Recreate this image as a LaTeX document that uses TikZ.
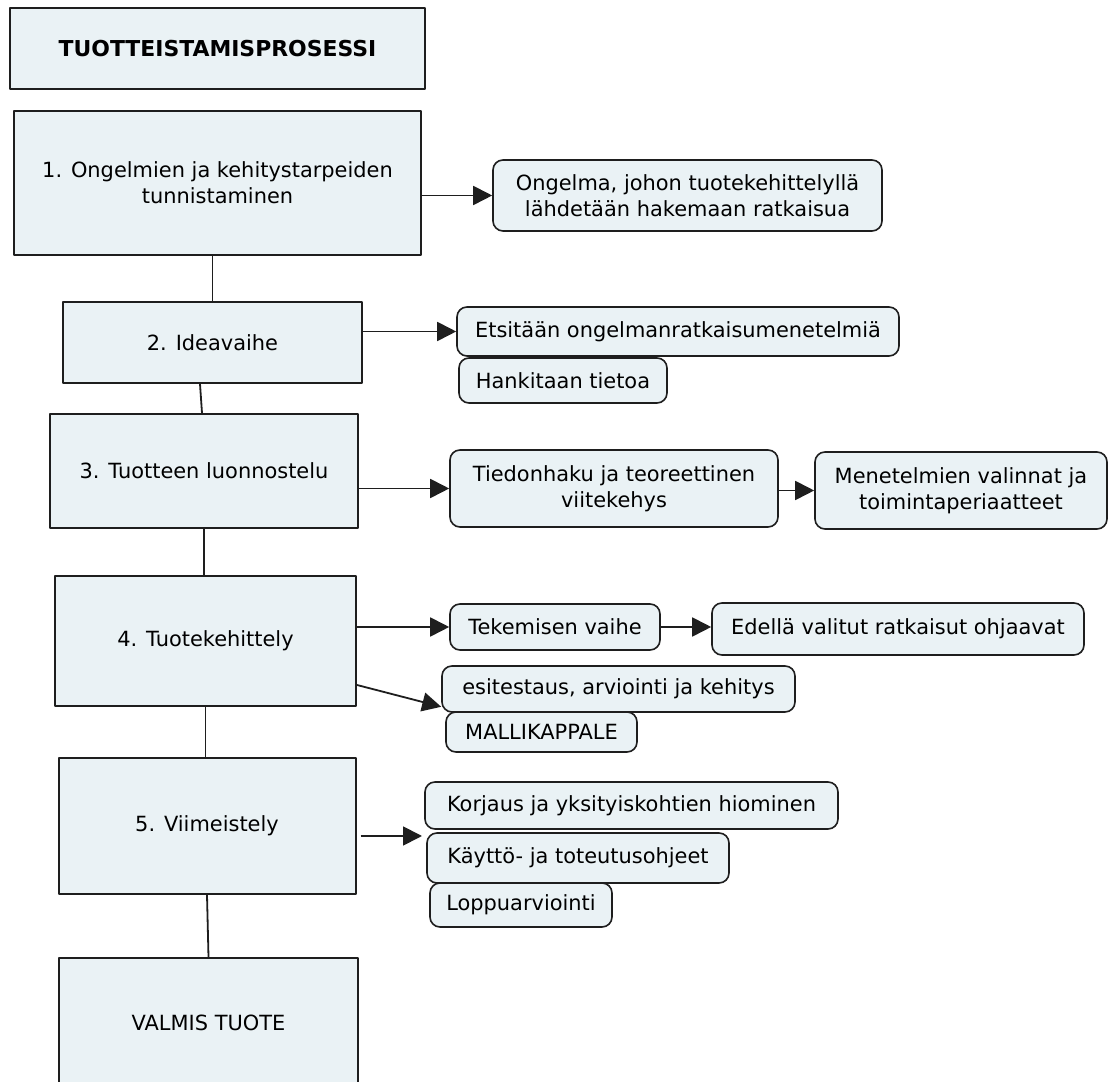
\documentclass[tikz,border=0pt]{standalone}
\usepackage{fontspec}
\setmainfont{DejaVu Sans}
\usetikzlibrary{arrows.meta}
\definecolor{boxfill}{RGB}{234,242,245}
\definecolor{boxline}{RGB}{30,30,30}

\begin{document}
\begin{tikzpicture}[>={Triangle[length=19bp,width=19bp]},line join=bevel,
  stage/.style={draw=boxline,fill=boxfill,line width=2bp,inner sep=0pt,
    align=center,font=\fontsize{21}{26}\selectfont},
  note/.style={draw=boxline,fill=boxfill,line width=1.6bp,rounded corners=10bp,
    inner sep=0pt,align=center,font=\fontsize{21}{26}\selectfont},
  link/.style={line width=1.8bp,draw=boxline}]
  \clip (0bp,0bp) rectangle (1109bp,1082bp);
%%
  % Node: title
  \node[stage,minimum width=415bp,minimum height=81bp,
    font=\fontsize{22}{26}\selectfont\bfseries] (title) at (217.5bp,1033.5bp) {TUOTTEISTAMISPROSESSI};
  % Node: s1
  \node[stage,minimum width=407bp,minimum height=144bp] (s1) at (217.5bp,899bp) {1. Ongelmien ja kehitystarpeiden\\tunnistaminen};
  % Node: s2
  \node[stage,minimum width=299bp,minimum height=81bp] (s2) at (212.5bp,739.5bp) {2. Ideavaihe};
  % Node: s3
  \node[stage,minimum width=308bp,minimum height=114bp] (s3) at (204bp,611bp) {3. Tuotteen luonnostelu};
  % Node: s4
  \node[stage,minimum width=301bp,minimum height=130bp] (s4) at (205.5bp,441bp) {4. Tuotekehittely};
  % Node: s5
  \node[stage,minimum width=297bp,minimum height=136bp] (s5) at (207bp,256bp) {5. Viimeistely};
  % Node: s6
  \node[stage,minimum width=299bp,minimum height=130bp] (s6) at (208.5bp,59bp) {VALMIS TUOTE};
  % Node: r1
  \node[note,minimum width=389bp,minimum height=71bp] (r1) at (687.5bp,886.5bp) {Ongelma, johon tuotekehittelyllä\\lähdetään hakemaan ratkaisua};
  % Node: r2
  \node[note,minimum width=442bp,minimum height=49bp] (r2) at (678bp,750.5bp) {Etsitään ongelmanratkaisumenetelmiä};
  % Node: r3
  \node[note,minimum width=208bp,minimum height=45bp] (r3) at (563bp,701.5bp) {Hankitaan tietoa};
  % Node: r4
  \node[note,minimum width=328bp,minimum height=77bp] (r4) at (614bp,593.5bp) {Tiedonhaku ja teoreettinen\\viitekehys};
  % Node: r5
  \node[note,minimum width=292bp,minimum height=77bp] (r5) at (961bp,591.5bp) {Menetelmien valinnat ja\\toimintaperiaatteet};
  % Node: r6
  \node[note,minimum width=210bp,minimum height=46bp] (r6) at (555bp,455bp) {Tekemisen vaihe};
  % Node: r7
  \node[note,minimum width=372bp,minimum height=52bp] (r7) at (898bp,453bp) {Edellä valitut ratkaisut ohjaavat};
  % Node: r8
  \node[note,minimum width=353bp,minimum height=46bp] (r8) at (618.5bp,393bp) {esitestaus, arviointi ja kehitys};
  % Node: r9
  \node[note,minimum width=191bp,minimum height=40bp] (r9) at (541.5bp,350bp) {MALLIKAPPALE};
  % Node: r10
  \node[note,minimum width=413bp,minimum height=47bp] (r10) at (631.5bp,276.5bp) {Korjaus ja yksityiskohtien hiominen};
  % Node: r11
  \node[note,minimum width=302bp,minimum height=50bp] (r11) at (578bp,224bp) {Käyttö- ja toteutusohjeet};
  % Node: r12
  \node[note,minimum width=182bp,minimum height=44bp] (r12) at (521bp,177bp) {Loppuarviointi};
  \coordinate (p5) at (422bp,246bp);
%%
  % Edge: s1 -- s2
  \draw[link] (s2.north |- s1.south) -- (s2.north);
  % Edge: s2 -- s3
  \draw[link] ([xshift=-12.5bp]s2.south) -- ([xshift=-2bp]s3.north);
  % Edge: s3 -- s4
  \draw[link] (s3.south) -- (s3.south |- s4.north);
  % Edge: s4 -- s5
  \draw[link] (s4.south) -- (s4.south |- s5.north);
  % Edge: s5 -- s6
  \draw[link] (s5.south) -- (s6.north);
  % Edge: s1 -> r1
  \draw[link,->] (s1.east |- r1.west) -- (r1.west);
  % Edge: s2 -> r2
  \draw[link,->] (s2.east |- r2.west) -- (r2.west);
  % Edge: s3 -> r4
  \draw[link,->] (s3.east |- r4.west) -- (r4.west);
  % Edge: r4 -> r5
  \draw[link,->] (r4.east |- r5.west) -- (r5.west);
  % Edge: s4 -> r6
  \draw[link,->] (s4.east |- r6.west) -- (r6.west);
  % Edge: r6 -> r7
  \draw[link,->] (r6.east) -- (r6.east -| r7.west);
  % Edge: s4 -> r8
  \draw[link,->] ([yshift=22bp]s4.south east) -- ([yshift=6bp]r8.south west);
  % Edge: s5 -> r10/r11
  \draw[link,->] ([xshift=4bp]s5.east |- p5) -- (p5);
%
\end{tikzpicture}
\end{document}
